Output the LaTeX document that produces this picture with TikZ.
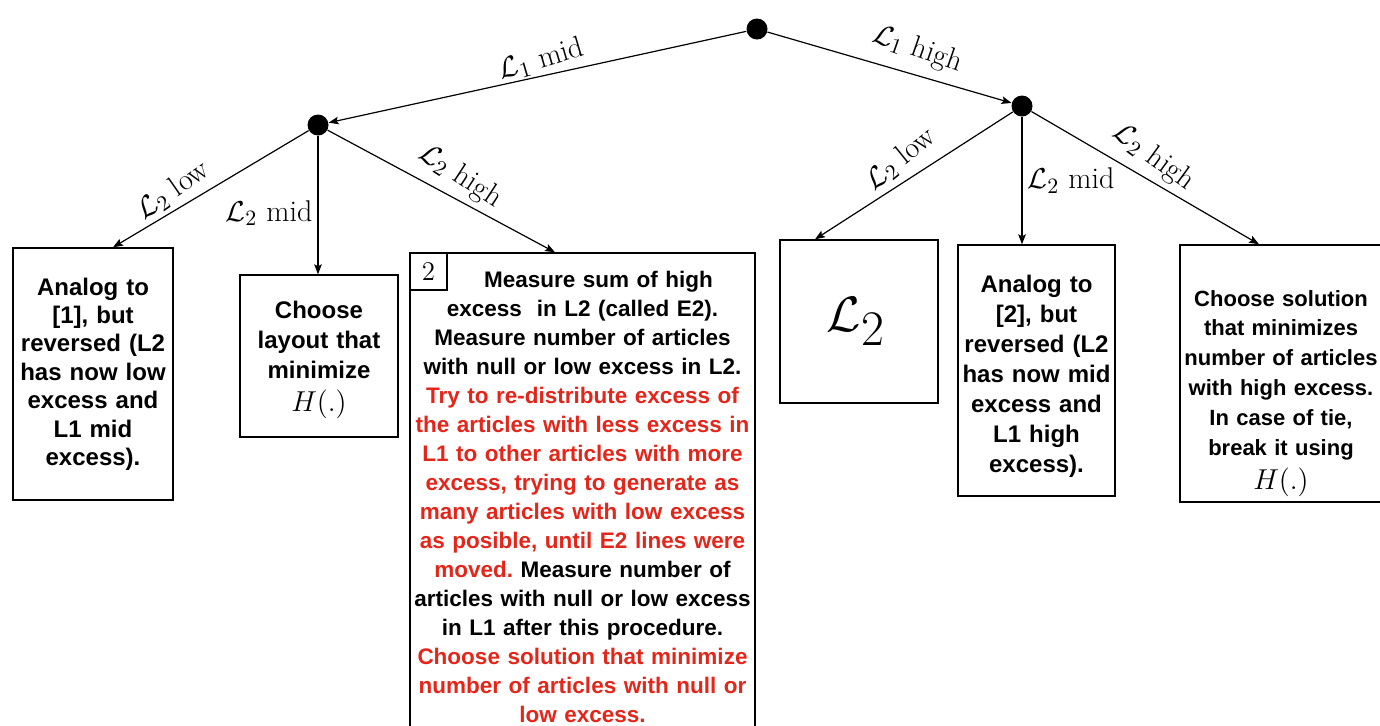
\documentclass[tikz,border=0pt]{standalone}
\usepackage{fontspec}
\setsansfont{Liberation Sans}
\usetikzlibrary{arrows.meta}
\definecolor{alert}{RGB}{228,37,26}
\tikzset{
  dot/.style={circle,fill=black,inner sep=0pt,minimum size=10.5pt},
  edge/.style={-{Stealth[length=5pt,width=3.8pt,inset=1pt]},line width=0.6pt},
  lab/.style={font=\fontsize{15}{16}\selectfont,inner sep=2.5pt},
  box/.style={draw,line width=0.7pt,align=center,inner sep=0pt,
    font=\sffamily\bfseries\fontsize{12}{14.2}\selectfont}
}
\newcommand{\Hdot}{{\fontsize{14}{15}\selectfont$H(.)$}}
\frenchspacing
\begin{document}
\begin{tikzpicture}[x=0.5pt,y=-0.5pt]
\useasboundingbox (0,0) rectangle (1380,725);

% decision points
\node[dot] (root) at (757,29) {};
\node[dot] (ld) at (318,125) {};
\node[dot] (rd) at (1022,106) {};

% outcome boxes
\node[box,text width=78pt,minimum width=80pt,minimum height=126pt] (b1) at (93,374)
  {Analog to\\{[1]}, but\\reversed (L2\\has now low\\excess and\\L1 mid\\excess).};

\node[box,text width=77pt,minimum width=79pt,minimum height=81pt,
  font=\sffamily\bfseries\fontsize{12}{15}\selectfont] (b2) at (319,356)
  {\rule{0pt}{13pt}Choose\\layout that\\minimize\\[1.5pt]\Hdot};

\node[box,text width=170pt,minimum width=172.5pt,minimum height=243.5pt,
  font=\sffamily\bfseries\fontsize{11.25}{14.5}\selectfont] (b3) at (582.5,496.5)
  {\hspace*{16pt}Measure sum of high\\
   excess \ in L2 (called E2).\\
   Measure number of articles\\
   with null or low excess in L2.\\
   {\color{alert}Try to re-distribute excess of\\
   the articles with less excess in\\
   L1 to other articles with more\\
   excess, trying to generate as\\
   many articles with low excess\\
   as posible, until E2 lines were\\
   moved.} Measure number of\\
   articles with null or low excess\\
   in L1 after this procedure.\\
   {\color{alert}Choose solution that minimize\\
   number of articles with null or\\
   low excess.}};
\node[draw,fill=white,line width=0.7pt,minimum size=18.5pt,inner sep=0pt,
  font=\fontsize{13.5}{14}\selectfont] (num) at (428.5,271.5) {2};

\node[box,minimum width=79pt,minimum height=81.5pt] (b4) at (859,321.5)
  {\fontsize{40}{44}\selectfont$\mathcal{L}_2$\hspace*{3pt}};

\node[box,text width=77pt,minimum width=78.5pt,minimum height=125.5pt,
  font=\sffamily\bfseries\fontsize{12}{15}\selectfont] (b5) at (1036.5,370.5)
  {\rule{0pt}{14pt}Analog to\\{[2]}, but\\reversed (L2\\has now mid\\excess and\\L1 high\\excess).};

\node[box,text width=100pt,minimum width=101pt,minimum height=128.5pt,
  font=\sffamily\bfseries\fontsize{11}{14.9}\selectfont] (b6) at (1281,373.5)
  {\rule{0pt}{28pt}Choose solution\\that minimizes\\number of articles\\with high excess.\\In case of tie,\\break it using\\[2.5pt]\Hdot};

% branches
\draw[edge] (root) -- node[lab,sloped,above,pos=0.48,inner sep=1.5pt,rotate=4] {$\mathcal{L}_1$ mid} (ld);
\draw[edge] (root) -- node[lab,sloped,above,pos=0.58,inner sep=5.5pt,rotate=-3] {$\mathcal{L}_1$ high} (rd);

\draw[edge] (ld) -- node[lab,sloped,above,pos=0.64,rotate=4] {$\mathcal{L}_2$ low} ([xshift=10pt]b1.north);
\draw[edge] (ld) -- node[lab,left,pos=0.56] {$\mathcal{L}_2$ mid} (ld |- b2.north);
\draw[edge] (ld) -- node[lab,sloped,above,pos=0.53,inner sep=4pt,rotate=-5] {$\mathcal{L}_2$ high} ([xshift=-13.75pt]b3.north);

\draw[edge] (rd) -- node[lab,sloped,above,pos=0.5,inner sep=4pt,rotate=6] {$\mathcal{L}_2$ low} ([xshift=-22pt]b4.north);
\draw[edge] (rd) -- node[lab,right,pos=0.5] {$\mathcal{L}_2$ mid} (rd |- b5.north);
\draw[edge] (rd) -- node[lab,sloped,above,pos=0.48,inner sep=4pt,rotate=-6] {$\mathcal{L}_2$ high} ([xshift=-11pt]b6.north);
\end{tikzpicture}
\end{document}
